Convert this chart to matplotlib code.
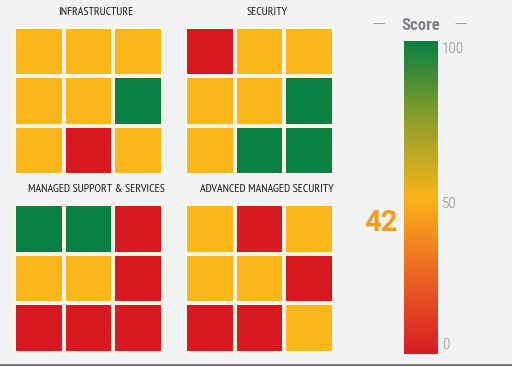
import numpy as np
import matplotlib
matplotlib.use("Agg")
import matplotlib.pyplot as plt
from matplotlib.colors import ListedColormap, LinearSegmentedColormap
from matplotlib.lines import Line2D

# ---- data ----
titles = ["INFRASTRUCTURE", "SECURITY", "MANAGED SUPPORT & SERVICES", "ADVANCED MANAGED SECURITY"]
# 0 = red, 1 = yellow, 2 = green (rows top -> bottom)
infrastructure = [[1, 1, 1], [1, 1, 2], [1, 0, 1]]
security = [[0, 1, 1], [1, 1, 2], [1, 2, 2]]
managed_support = [[2, 2, 0], [1, 1, 0], [0, 0, 0]]
advanced_security = [[1, 0, 1], [1, 1, 0], [0, 0, 1]]
score = 42
score_ticks = [0, 50, 100]

status_colors = ["#d71920", "#fbb81b", "#0a8043"]
grad_colors = ["#d81b22", "#ec6423", "#fbb51a", "#8c9f2a", "#0a7f42"]
BG = "#f2f3f5"

W, H = 512, 367
fig = plt.figure(figsize=(W / 100, H / 100), dpi=100, facecolor=BG)

def fx(px):
    return px / W

def fy(py_top, py_bottom):
    return 1 - py_bottom / H, (py_bottom - py_top) / H

narrow = ["PT Sans Narrow", "DejaVu Sans"]
cond = ["Roboto Condensed", "DejaVu Sans"]

grids = [infrastructure, security, managed_support, advanced_security]
boxes = [(14, 27, 163, 175), (185, 27, 334, 175), (14, 204, 163, 353), (185, 204, 334, 353)]
cmap = ListedColormap(status_colors)
for grid, title, (x0, y0, x1, y1) in zip(grids, titles, boxes):
    b, h = fy(y0, y1)
    ax = fig.add_axes([fx(x0), b, fx(x1 - x0), h])
    arr = np.array(grid)
    ax.pcolormesh(arr, cmap=cmap, vmin=-0.5, vmax=2.5,
                  edgecolors="#fdf6e6", linewidth=2.6)
    ax.set_xlim(0, 3)
    ax.set_ylim(3, 0)
    ax.set_axis_off()
    ax.annotate(title, xy=(0.55, 1.0), xycoords="axes fraction",
                xytext=(0, 15), textcoords="offset pixels",
                ha="center", va="center", fontsize=8.6, color="#1a1a1a",
                family=narrow)

# ---- colorbar ----
b, h = fy(41, 354)
cax = fig.add_axes([fx(404), b, fx(34), h])
gcmap = LinearSegmentedColormap.from_list("score", grad_colors)
grad = np.linspace(0, 100, 256).reshape(-1, 1)
cax.imshow(grad, cmap=gcmap, aspect="auto", origin="lower",
           extent=[0, 1, 0, 100], vmin=0, vmax=100)
cax.set_xlim(0, 1)
cax.set_ylim(0, 100)
cax.set_xticks([])
cax.set_yticks([])
for s in cax.spines.values():
    s.set_visible(False)
vas = {0: "bottom", 50: "center", 100: "top"}
for t in score_ticks:
    cax.annotate(str(t), xy=(1.0, t), xycoords=("axes fraction", "data"),
                 xytext=(4, -6 if t == 50 else (2 if t == 0 else -1)),
                 textcoords="offset pixels",
                 ha="left", va=vas[t], fontsize=11, color="#8f8f8f",
                 family=cond, fontweight="light")

cax.annotate(str(score), xy=(0.0, score), xycoords=("axes fraction", "data"),
             xytext=(-6, 0), textcoords="offset pixels",
             ha="right", va="center", fontsize=21, fontweight="bold",
             color="#f39c1b", family=["Roboto", "DejaVu Sans"])

cax.annotate("Score", xy=(0.5, 1.0), xycoords="axes fraction",
             xytext=(0, 16), textcoords="offset pixels",
             ha="center", va="center", fontsize=12, fontweight="bold",
             color="#7f8084", family=cond)
for dx in (-42, 40):
    cax.annotate("—", xy=(0.5, 1.0), xycoords="axes fraction",
                 xytext=(dx, 17), textcoords="offset pixels",
                 ha="center", va="center", fontsize=9,
                 color="#9a9a9e", family=["DejaVu Sans"])

fig.add_artist(Line2D([0, 1], [2 / H, 2 / H], transform=fig.transFigure,
                      color="#6a6a6a", lw=1.3))

fig.savefig("out.png", dpi=100, facecolor=BG)
